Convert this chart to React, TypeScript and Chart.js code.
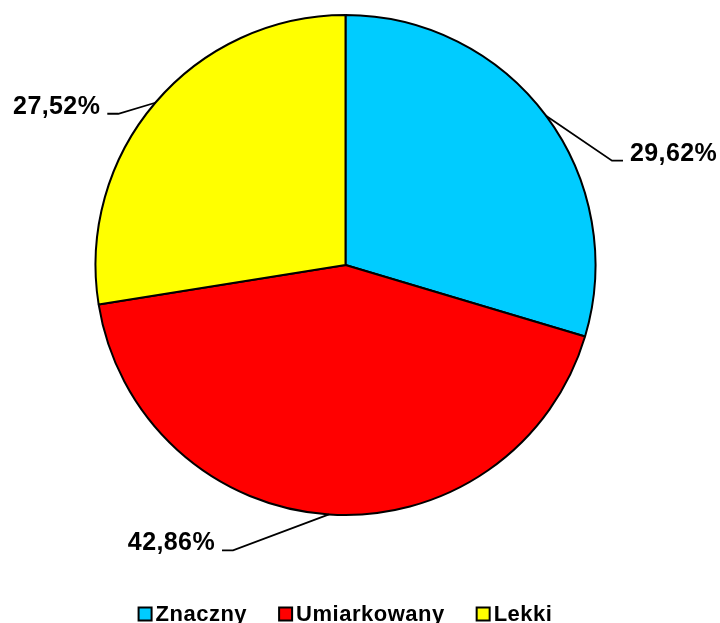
import React, { useEffect, useRef } from "react";
import { Chart, registerables } from "chart.js";

Chart.register(...registerables);

const categories = ["Znaczny", "Umiarkowany", "Lekki"];
const values = [29.62, 42.86, 27.52];
const valueLabels = ["29,62%", "42,86%", "27,52%"];
const colors = ["#00CCFF", "#FF0000", "#FFFF00"];
// leader line elbow offsets from slice anchor (dx, dy) and horizontal tail direction
const elbowOffsets = [
  [66, 45, 1],
  [-96, 36, -1],
  [-37, 11, -1],
];

const FONT = "'Liberation Sans', Arial, sans-serif";

const labelPlugin = {
  id: "labelPlugin",
  afterDraw(chart: any) {
    const ctx = chart.ctx;
    const meta = chart.getDatasetMeta(0);
    ctx.save();
    ctx.strokeStyle = "#000";
    ctx.lineWidth = 1.8;
    ctx.fillStyle = "#000";
    ctx.font = `bold 25px ${FONT}`;
    (ctx as any).letterSpacing = "0.4px";
    ctx.textBaseline = "alphabetic";
    meta.data.forEach((arc: any, i: number) => {
      const p = arc.getProps(["x", "y", "startAngle", "endAngle", "outerRadius"], true);
      const mid = (p.startAngle + p.endAngle) / 2;
      const ax = p.x + Math.cos(mid) * p.outerRadius;
      const ay = p.y + Math.sin(mid) * p.outerRadius;
      const [dx, dy, dir] = elbowOffsets[i];
      const ex = ax + dx;
      const ey = ay + dy;
      const tx = ex + dir * 11;
      ctx.beginPath();
      ctx.moveTo(ax, ay);
      ctx.lineTo(ex, ey);
      ctx.lineTo(tx, ey);
      ctx.stroke();
      ctx.textAlign = dir > 0 ? "left" : "right";
      ctx.fillText(valueLabels[i], tx + dir * 7, ey);
    });

    // legend
    ctx.font = `bold 22px ${FONT}`;
    (ctx as any).letterSpacing = "0.5px";
    ctx.textAlign = "left";
    ctx.textBaseline = "alphabetic";
    const box = 13;
    const gapText = 4;
    const gapItem = 32;
    const widths = categories.map((c) => box + gapText + ctx.measureText(c).width);
    const total = widths.reduce((a, b) => a + b, 0) + gapItem * (categories.length - 1);
    const area = chart.chartArea;
    let x = (area.left + area.right) / 2 - total / 2;
    const boxMid = 614;
    const baseline = 621;
    categories.forEach((c, i) => {
      ctx.fillStyle = colors[i];
      ctx.fillRect(x, boxMid - box / 2, box, box);
      ctx.lineWidth = 2;
      ctx.strokeStyle = "#000";
      ctx.strokeRect(x, boxMid - box / 2, box, box);
      ctx.fillStyle = "#000";
      ctx.fillText(c, x + box + gapText, baseline);
      x += widths[i] + gapItem;
    });
    ctx.restore();
  },
};

export default function App() {
  const ref = useRef<HTMLCanvasElement>(null);
  useEffect(() => {
    if (!ref.current) return;
    const chart = new Chart(ref.current, {
      type: "pie",
      data: {
        labels: categories,
        datasets: [
          {
            data: values,
            backgroundColor: colors,
            borderColor: "#000",
            borderWidth: 2,
          },
        ],
      },
      options: {
        responsive: false,
        animation: false,
        layout: { padding: { left: 94, right: 123, top: 14, bottom: 107 } },
        plugins: {
          legend: { display: false },
          tooltip: { enabled: false },
        },
      },
      plugins: [labelPlugin],
    });
    return () => chart.destroy();
  }, []);
  return (
    <div style={{ position: "absolute", left: 0, top: 0, width: 720, height: 623, background: "#fff" }}>
      <canvas ref={ref} width={720} height={623} />
    </div>
  );
}
